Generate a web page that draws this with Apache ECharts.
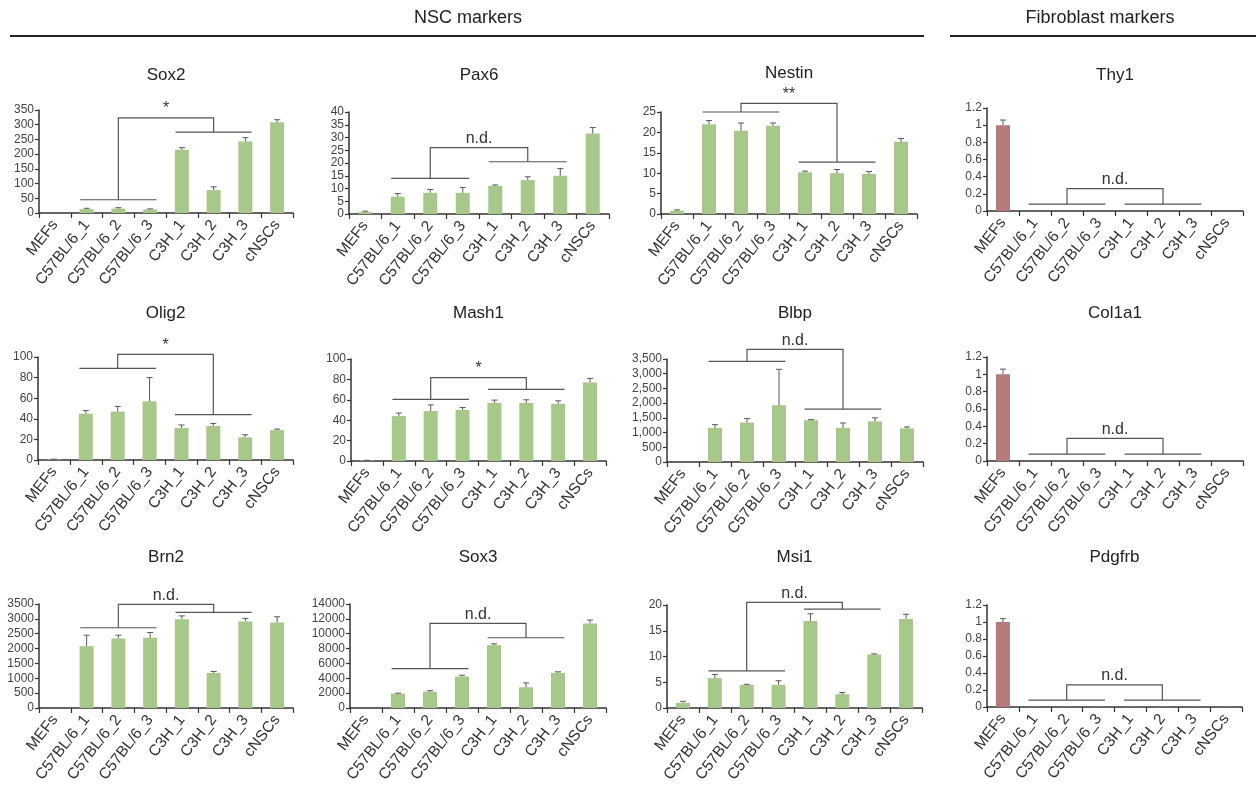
<!DOCTYPE html>
<html><head><meta charset="utf-8">
<script src="https://cdn.jsdelivr.net/npm/echarts@6/dist/echarts.min.js"></script>
<style>html,body{margin:0;padding:0;background:#fff}#c{width:1256px;height:796px}</style>
</head><body><div id="c"></div>
<script>
// ---------- data ----------
const categories = ['MEFs','C57BL/6_1','C57BL/6_2','C57BL/6_3','C3H_1','C3H_2','C3H_3','cNSCs'];

const sox2Values = [0, 13, 15, 12, 215, 78, 243, 308];
const sox2Errors = [0, 3, 3, 2, 7, 11, 13, 9];
const sox2Axis = [350, 50];            // max, interval
const sox2Bracket = [45, 275, 323];    // group-1 line, group-2 line, connector top

const pax6Values = [0.8, 6.8, 8.3, 8.3, 11, 13.3, 15, 31.6];
const pax6Errors = [0.3, 1.2, 1.3, 2.1, 0.4, 1.3, 2.8, 2.3];
const pax6Axis = [40, 5];
const pax6Bracket = [14, 20.5, 26];

const nestinValues = [0.8, 22, 20.4, 21.6, 10.2, 10, 9.8, 17.7];
const nestinErrors = [0.2, 0.9, 1.9, 0.7, 0.3, 0.9, 0.6, 0.8];
const nestinAxis = [25, 5];
const nestinBracket = [25, 12.7, 27.1];

const thy1Values = [1, 0, 0, 0, 0, 0, 0, 0];
const thy1Errors = [0.06, 0, 0, 0, 0, 0, 0, 0];
const thy1Axis = [1.2, 0.2];
const thy1Bracket = [0.08, 0.08, 0.26];

const olig2Values = [0.5, 45, 47, 57, 31, 33, 22, 29];
const olig2Errors = [0.3, 3, 5, 23, 3, 2.5, 2.5, 1];
const olig2Axis = [100, 20];
const olig2Bracket = [89, 44, 102.5];

const mash1Values = [0.5, 44, 49, 50, 57, 57, 56, 77];
const mash1Errors = [0.2, 3, 6, 2.5, 2.7, 3, 3, 4];
const mash1Axis = [100, 20];
const mash1Bracket = [60.5, 70.3, 81.7];

const blbpValues = [0, 1160, 1340, 1930, 1420, 1160, 1380, 1140];
const blbpErrors = [0, 110, 135, 1220, 20, 165, 120, 50];
const blbpAxis = [3500, 500];
const blbpBracket = [3420, 1800, 3830];

const col1a1Values = [1, 0, 0, 0, 0, 0, 0, 0];
const col1a1Errors = [0.06, 0, 0, 0, 0, 0, 0, 0];
const col1a1Axis = [1.2, 0.2];
const col1a1Bracket = [0.08, 0.08, 0.26];

const brn2Values = [0, 2080, 2340, 2360, 2990, 1180, 2915, 2880];
const brn2Errors = [0, 370, 110, 180, 110, 50, 100, 190];
const brn2Axis = [3500, 500];
const brn2Bracket = [2700, 3220, 3490];

const sox3Values = [0, 1940, 2200, 4230, 8460, 2790, 4730, 11390];
const sox3Errors = [0, 60, 130, 180, 180, 590, 140, 450];
const sox3Axis = [14000, 2000];
const sox3Bracket = [5300, 9460, 11400];

const msi1Values = [1.0, 5.8, 4.5, 4.5, 16.9, 2.7, 10.4, 17.3];
const msi1Errors = [0.3, 0.7, 0.1, 0.8, 1.4, 0.3, 0.1, 0.9];
const msi1Axis = [20, 5];
const msi1Bracket = [7.2, 19.2, 20.5];

const pdgfrbValues = [1, 0.005, 0.005, 0.005, 0.005, 0.006, 0.005, 0.005];
const pdgfrbErrors = [0.04, 0, 0, 0, 0, 0, 0, 0];
const pdgfrbAxis = [1.2, 0.2];
const pdgfrbBracket = [0.08, 0.08, 0.26];

const panelNames = ['Sox2','Pax6','Nestin','Thy1','Olig2','Mash1','Blbp','Col1a1','Brn2','Sox3','Msi1','Pdgfrb'];
const panelValues = [sox2Values,pax6Values,nestinValues,thy1Values,olig2Values,mash1Values,blbpValues,col1a1Values,brn2Values,sox3Values,msi1Values,pdgfrbValues];
const panelErrors = [sox2Errors,pax6Errors,nestinErrors,thy1Errors,olig2Errors,mash1Errors,blbpErrors,col1a1Errors,brn2Errors,sox3Errors,msi1Errors,pdgfrbErrors];
const panelAxes = [sox2Axis,pax6Axis,nestinAxis,thy1Axis,olig2Axis,mash1Axis,blbpAxis,col1a1Axis,brn2Axis,sox3Axis,msi1Axis,pdgfrbAxis];
const panelBrackets = [sox2Bracket,pax6Bracket,nestinBracket,thy1Bracket,olig2Bracket,mash1Bracket,blbpBracket,col1a1Bracket,brn2Bracket,sox3Bracket,msi1Bracket,pdgfrbBracket];
const panelLabels = ['*','n.d.','**','n.d.','*','*','n.d.','n.d.','n.d.','n.d.','n.d.','n.d.'];
const fibroblastPanels = ['Thy1','Col1a1','Pdgfrb'];
const commaPanels = ['Blbp'];

// ---------- layout (pixels) ----------
const gridBoxes = [
  [39,110,293,213],[349,112,609,214],[661,112,917,214],[987,108,1243,211],
  [38,357,293,460],[351,359,606,461],[667,359,923,462],[987,357,1243,461],
  [39,604,293,708],[350,604,606,708],[667,605,922,708],[987,605,1242,707]
];
const titleY = [75,75,73,75,313,313,313,313,557,557,557,557];

const FONT = '"Liberation Sans", Arial, Helvetica, sans-serif';
const GREEN = '#a8c78a';
const RED = '#b57a7b';
const LINE = '#555';

function bracketRender(levels, label) {
  return function (params, api) {
    const bw = api.size([1, 0])[0];
    const y1 = api.coord([0, levels[0]])[1];
    const y2 = api.coord([0, levels[1]])[1];
    const yt = api.coord([0, levels[2]])[1];
    const xa = api.coord([1, 0])[0] - 0.2 * bw, xb = api.coord([3, 0])[0] + 0.2 * bw;
    const xc = api.coord([4, 0])[0] - 0.2 * bw, xd = api.coord([6, 0])[0] + 0.2 * bw;
    const m1 = api.coord([2, 0])[0], m2 = api.coord([5, 0])[0];
    const st = { stroke: LINE, lineWidth: 1.2, fill: null };
    return { type: 'group', children: [
      { type: 'line', shape: { x1: xa, y1: y1, x2: xb, y2: y1 }, style: st },
      { type: 'line', shape: { x1: xc, y1: y2, x2: xd, y2: y2 }, style: st },
      { type: 'polyline', shape: { points: [[m1, y1], [m1, yt], [m2, yt], [m2, y2]] }, style: st },
      { type: 'text', x: (m1 + m2) / 2, y: yt - 1, style: { text: label, align: 'center', verticalAlign: 'bottom', fill: '#333', font: '16px ' + FONT } }
    ]};
  };
}

function errorRender(params, api) {
  const i = api.value(0), v = api.value(1), e = api.value(2);
  if (!e) return null;
  const b = api.coord([i, v]), t = api.coord([i, v + e]);
  const st = { stroke: '#5a5a5a', lineWidth: 1 };
  return { type: 'group', children: [
    { type: 'line', shape: { x1: b[0], y1: b[1], x2: t[0], y2: t[1] }, style: st },
    { type: 'line', shape: { x1: t[0] - 3, y1: t[1], x2: t[0] + 3, y2: t[1] }, style: st }
  ]};
}

const grid = [], xAxis = [], yAxis = [], series = [], graphic = [];
panelNames.forEach((name, k) => {
  const [l, t, r, b] = gridBoxes[k];
  grid.push({ left: l, top: t, width: r - l, height: b - t, containLabel: false });
  xAxis.push({
    type: 'category', gridIndex: k, data: categories,
    axisLine: { lineStyle: { color: '#333', width: 1.5 } },
    axisTick: { show: true, alignWithLabel: false, length: 5, lineStyle: { color: '#333', width: 1.2 } },
    axisLabel: { rotate: 52, interval: 0, fontSize: 15.5, color: '#333', margin: 9, fontFamily: FONT }
  });
  const comma = commaPanels.includes(name);
  yAxis.push({
    type: 'value', gridIndex: k, min: 0, max: panelAxes[k][0], interval: panelAxes[k][1],
    axisLine: { show: true, lineStyle: { color: '#333', width: 1.5 } },
    axisTick: { show: true, length: 4, lineStyle: { color: '#333', width: 1.2 } },
    splitLine: { show: false },
    axisLabel: { fontSize: 12, color: '#444', margin: 5, fontFamily: FONT,
      formatter: v => { const n = +(+v).toFixed(2); return comma ? n.toLocaleString('en-US') : String(n); } }
  });
  const fib = fibroblastPanels.includes(name);
  series.push({
    type: 'bar', xAxisIndex: k, yAxisIndex: k, data: panelValues[k], barWidth: 14,
    itemStyle: { color: fib ? RED : GREEN }, silent: true, animation: false
  });
  series.push({
    type: 'custom', xAxisIndex: k, yAxisIndex: k, z: 5, silent: true, animation: false,
    data: panelValues[k].map((v, i) => [i, v, panelErrors[k][i]]),
    encode: { x: 0, y: 1 }, renderItem: errorRender, clip: false
  });
  series.push({
    type: 'custom', xAxisIndex: k, yAxisIndex: k, z: 6, silent: true, animation: false,
    data: [[0, 0]], encode: { x: 0, y: 1 }, clip: false,
    renderItem: bracketRender(panelBrackets[k], panelLabels[k])
  });
  graphic.push({ type: 'text', x: (l + r) / 2, y: titleY[k],
    style: { text: name, align: 'center', verticalAlign: 'middle', fill: '#222', font: '17px ' + FONT } });
});

graphic.push(
  { type: 'text', x: 468, y: 18, style: { text: 'NSC markers', align: 'center', verticalAlign: 'middle', fill: '#222', font: '18px ' + FONT } },
  { type: 'line', shape: { x1: 10, y1: 36, x2: 924, y2: 36 }, style: { stroke: '#222', lineWidth: 2 } },
  { type: 'text', x: 1100, y: 18, style: { text: 'Fibroblast markers', align: 'center', verticalAlign: 'middle', fill: '#222', font: '18px ' + FONT } },
  { type: 'line', shape: { x1: 950, y1: 36, x2: 1256, y2: 36 }, style: { stroke: '#222', lineWidth: 2 } }
);

const chart = echarts.init(document.getElementById('c'), null, { renderer: 'canvas' });
chart.setOption({ animation: false, backgroundColor: '#fff', grid, xAxis, yAxis, series, graphic });
</script></body></html>
